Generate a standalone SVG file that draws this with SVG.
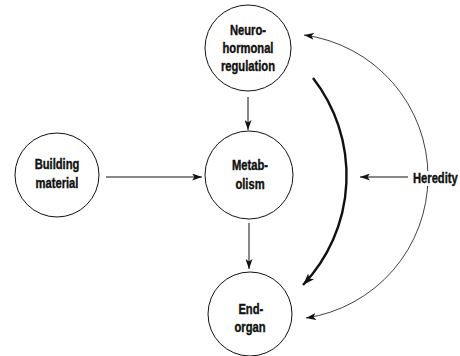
<svg xmlns="http://www.w3.org/2000/svg" width="460" height="356" viewBox="0 0 460 356">
  <defs>
    <style>
      .node { fill: none; stroke: #111; stroke-width: 1; }
      .lbl { font-family: "Liberation Sans", Arial, sans-serif; font-weight: bold; font-size: 14px; fill: #111; stroke: #111; stroke-width: 0.4; text-anchor: middle; }
      .edge { fill: none; stroke: #111; stroke-width: 1; }
      .thin { stroke-width: 0.8; }
      .thick { stroke-width: 2.4; }
    </style>
    <marker id="arrow" viewBox="0 0 10 7" refX="10" refY="3.5" markerWidth="10" markerHeight="7" markerUnits="userSpaceOnUse" orient="auto">
      <path d="M0,0 L10,3.5 L0,7 L2.5,3.5 z" fill="#111"/>
    </marker>
    <marker id="arrowBig" viewBox="0 0 10 7" refX="10" refY="3.5" markerWidth="12" markerHeight="9" markerUnits="userSpaceOnUse" orient="auto">
      <path d="M0,0 L10,3.5 L0,7 L2.5,3.5 z" fill="#111"/>
    </marker>
  </defs>

  <rect width="460" height="356" fill="#fff"/>

  <g id="connectors">
    <!-- straight feeds -->
    <line class="edge" x1="248" y1="97" x2="248" y2="130" marker-end="url(#arrow)"/>
    <line class="edge" x1="106" y1="177" x2="202" y2="177" marker-end="url(#arrow)"/>
    <line class="edge" x1="249" y1="223" x2="249" y2="269" marker-end="url(#arrow)"/>
    <!-- heavy arc from regulation down to end-organ -->
    <path class="edge thick" d="M313,78 A159,159 0 0 1 303,285" marker-end="url(#arrowBig)"/>
    <!-- heredity arcs, upward and downward -->
    <path class="edge thin" d="M428,177 A143,143 0 0 0 304,35" marker-end="url(#arrow)"/>
    <path class="edge thin" d="M428,177 A143,143 0 0 1 306,318" marker-end="url(#arrow)"/>
    <line class="edge" x1="408" y1="177" x2="360" y2="177" marker-end="url(#arrow)"/>
  </g>

  <!-- labels use a condensed bold face: regular bold squeezed horizontally -->
  <g id="neurohormonal">
    <circle class="node" cx="248" cy="48" r="43"/>
    <g transform="translate(248,0) scale(0.8,1)">
      <text class="lbl" x="0" y="35">Neuro-</text>
      <text class="lbl" x="0" y="53">hormonal</text>
      <text class="lbl" x="0" y="71">regulation</text>
    </g>
  </g>

  <g id="building">
    <circle class="node" cx="57" cy="175" r="42"/>
    <g transform="translate(57,0) scale(0.8,1)">
      <text class="lbl" x="0" y="169">Building</text>
      <text class="lbl" x="0" y="188">material</text>
    </g>
  </g>

  <g id="metabolism">
    <circle class="node" cx="249" cy="175" r="44"/>
    <g transform="translate(250,0) scale(0.8,1)">
      <text class="lbl" x="0" y="170">Metab-</text>
      <text class="lbl" x="0" y="189">olism</text>
    </g>
  </g>

  <g id="endorgan">
    <circle class="node" cx="250" cy="314" r="42"/>
    <g transform="translate(250,0) scale(0.8,1)">
      <text class="lbl" x="1" y="314">End-</text>
      <text class="lbl" x="0" y="332">organ</text>
    </g>
  </g>

  <g id="heredity">
    <rect x="411" y="171" width="49" height="15" fill="#fff"/>
    <g transform="translate(413,0) scale(0.8,1)">
      <text class="lbl" x="0" y="183" style="text-anchor:start">Heredity</text>
    </g>
  </g>
</svg>
